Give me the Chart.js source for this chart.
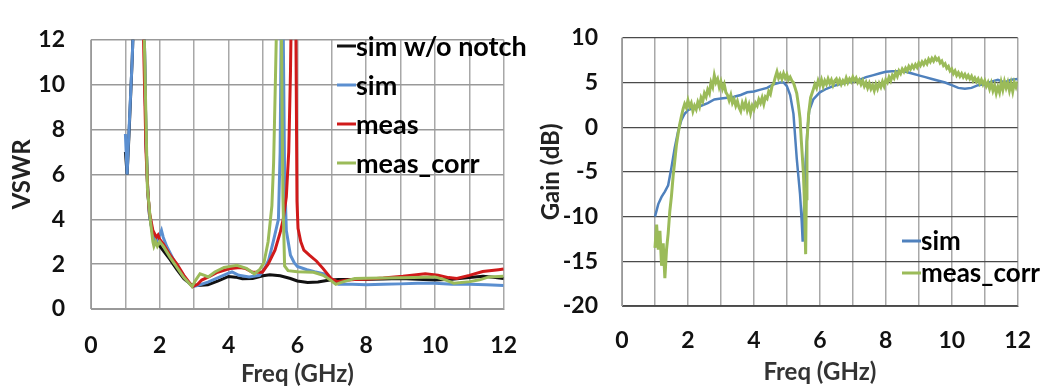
<!DOCTYPE html>
<html>
<head>
<meta charset="utf-8">
<script src="https://cdn.jsdelivr.net/npm/chart.js@4.4.1/dist/chart.umd.min.js"></script>
<style>
  body { margin: 0; background: #fff; }
  #wrap { position: relative; width: 1052px; height: 390px; }
  #vswrChart { position: absolute; left: 0; top: 0; }
  #gainChart { position: absolute; left: 525px; top: 0; }
</style>
</head>
<body>
<div id="wrap">
  <canvas id="vswrChart" width="540" height="390"></canvas>
  <canvas id="gainChart" width="527" height="390"></canvas>
</div>
<script>
// ---- tick labels ----
const freqTicks = [0, 2, 4, 6, 8, 10, 12];
const vswrTicks = [0, 2, 4, 6, 8, 10, 12];
const gainTicks = [-20, -15, -10, -5, 0, 5, 10];

// ---- VSWR (left) ----
const woNotchFreq = [1.0, 1.05, 1.1, 1.2, 1.3, 1.4, 1.5, 1.55, 1.6, 1.65,
  1.7, 1.8, 1.9, 2.0, 2.1, 2.3, 2.5, 2.7, 2.9, 3.1,
  3.4, 3.7, 4.0, 4.2, 4.4, 4.7, 5.0, 5.2, 5.5, 5.8,
  6.0, 6.3, 6.6, 6.9, 7.2, 7.7, 8.5, 9.0, 9.5, 10.0,
  10.5, 11.0, 11.4, 11.7, 12.0];
const woNotchVswr = [7.0, 6.0, 7.6, 11.2, 16, 18, 15, 12.3, 7.5, 5.3,
  4.2, 3.3, 2.95, 2.8, 2.6, 2.2, 1.75, 1.35, 1.1, 1.05,
  1.08, 1.25, 1.45, 1.42, 1.35, 1.36, 1.48, 1.53, 1.48, 1.36,
  1.25, 1.18, 1.2, 1.28, 1.32, 1.32, 1.34, 1.36, 1.33, 1.29,
  1.33, 1.4, 1.46, 1.42, 1.36];

const simFreq = [1.0, 1.05, 1.1, 1.2, 1.25, 1.4, 1.5, 1.55, 1.6, 1.65,
  1.7, 1.8, 1.9, 2.0, 2.05, 2.1, 2.2, 2.4, 2.6, 2.8,
  2.95, 3.1, 3.4, 3.7, 4.0, 4.1, 4.3, 4.6, 4.9, 5.05,
  5.17, 5.3, 5.45, 5.5, 5.53, 5.58, 5.63, 5.68, 5.8, 5.91,
  6.0, 6.28, 6.5, 6.75, 6.9, 7.07, 7.2, 7.6, 8.0, 8.5,
  9.0, 9.5, 10.0, 10.5, 11.0, 11.5, 12.0];
const simVswr = [7.8, 6.0, 7.8, 11.2, 13.5, 18, 15, 12.3, 7.5, 5.3,
  4.2, 3.3, 3.0, 3.3, 3.5, 3.2, 2.8, 2.2, 1.7, 1.25,
  1.0, 1.05, 1.2, 1.4, 1.6, 1.65, 1.5, 1.43, 1.5, 1.8,
  2.2, 3.0, 4.0, 7.0, 12.5, 14, 6.0, 3.5, 2.4, 2.06,
  1.9, 1.75, 1.66, 1.57, 1.45, 1.22, 1.1, 1.1, 1.08, 1.1,
  1.12, 1.15, 1.15, 1.1, 1.1, 1.08, 1.05];

const measFreq = [1.0, 1.4, 1.52, 1.6, 1.65, 1.7, 1.8, 1.9, 1.95, 2.0,
  2.1, 2.3, 2.5, 2.7, 2.9, 2.95, 3.1, 3.22, 3.45, 3.68,
  4.06, 4.33, 4.5, 4.7, 4.98, 5.15, 5.35, 5.5, 5.59, 5.68,
  5.75, 5.8, 5.85, 5.92, 5.96, 5.99, 6.02, 6.1, 6.19, 6.35,
  6.56, 6.75, 6.98, 7.16, 7.4, 7.67, 8.0, 8.5, 9.07, 9.4,
  9.72, 10.09, 10.4, 10.64, 11.0, 11.39, 11.85, 12.0];
const measVswr = [20, 20, 12.5, 7.0, 5.3, 4.3, 3.5, 3.2, 3.3, 3.1,
  2.9, 2.4, 2.0, 1.5, 1.1, 1.0, 1.1, 1.29, 1.45, 1.64,
  1.81, 1.85, 1.8, 1.64, 1.64, 2.0, 2.62, 3.4, 4.0, 5.0,
  7.0, 10.5, 16, 16, 12.0, 4.8, 3.6, 3.0, 2.62, 2.4,
  2.13, 1.8, 1.36, 1.22, 1.28, 1.32, 1.33, 1.38, 1.46, 1.52,
  1.57, 1.5, 1.4, 1.36, 1.5, 1.67, 1.75, 1.78];

const corrFreq = [1.0, 1.4, 1.55, 1.64, 1.73, 1.8, 1.83, 1.88, 1.93, 2.0,
  2.1, 2.3, 2.5, 2.7, 2.94, 3.05, 3.17, 3.3, 3.41, 3.6,
  3.87, 4.05, 4.24, 4.52, 4.75, 4.9, 5.03, 5.15, 5.26, 5.31,
  5.36, 5.4, 5.47, 5.54, 5.58, 5.63, 5.73, 6.0, 6.47, 6.75,
  6.95, 7.12, 7.3, 7.67, 8.0, 9.07, 10.0, 10.3, 10.55, 11.02,
  11.3, 11.57, 12.0];
const corrVswr = [20, 20, 12.0, 5.4, 3.9, 3.0, 2.8, 3.0, 2.8, 3.0,
  2.8, 2.3, 1.85, 1.4, 1.0, 1.3, 1.57, 1.5, 1.43, 1.65,
  1.85, 1.9, 1.95, 1.81, 1.57, 1.75, 2.06, 3.0, 4.6, 6.5,
  10, 13, 14, 12, 5.0, 1.92, 1.71, 1.66, 1.64, 1.5,
  1.3, 1.1, 1.2, 1.36, 1.37, 1.39, 1.43, 1.3, 1.15, 1.22,
  1.3, 1.43, 1.46];

// ---- Gain (right) ----
const gainSimFreq = [1.0, 1.1, 1.2, 1.3, 1.4, 1.5, 1.6, 1.7, 1.8, 1.9,
  2.0, 2.2, 2.4, 2.6, 2.8, 3.0, 3.2, 3.4, 3.6, 3.8, 4.0, 4.2, 4.4, 4.6, 4.8,
  4.9, 5.0, 5.1, 5.2, 5.3, 5.35, 5.4, 5.45, 5.48, 5.52, 5.56, 5.62, 5.68, 5.8,
  6.0, 6.2, 6.4, 6.6, 6.8, 7.0, 7.2, 7.4, 7.6, 7.8,
  8.0, 8.2, 8.4, 8.6, 8.8, 9.0, 9.2, 9.4, 9.6, 9.8,
  10.0, 10.2, 10.4, 10.6, 10.8, 11.0, 11.2, 11.4, 11.6, 11.8,
  12.0];
const gainSim = [-10, -8.6, -7.8, -7.2, -6.5, -4.5, -2.3, -0.5, 0.8, 1.5,
  1.9, 2.2, 2.4, 2.7, 3.1, 3.2, 3.3, 3.4, 3.6, 3.9, 4.0, 4.2, 4.4, 4.8, 5.0,
  5.0, 4.6, 3.6, 1.5, -3.5, -5.5, -7.5, -10.5, -12.8, -9.0, -4.5, -0.5, 1.9, 3.1,
  3.9, 4.3, 4.6, 4.8, 5.0, 5.1, 5.3, 5.6, 5.8, 6.0,
  6.2, 6.25, 6.25, 6.2, 6.0, 5.8, 5.6, 5.4, 5.2, 5.0,
  4.7, 4.4, 4.3, 4.4, 4.7, 4.8, 5.1, 5.3, 5.0, 5.3,
  5.4];

const gainCorrFreq = [
  1.0, 1.05, 1.1, 1.15, 1.2, 1.25, 1.3, 1.35, 1.4, 1.45,
  1.5, 1.55, 1.6, 1.65, 1.7, 1.75, 1.8, 1.85, 1.9, 1.95,
  2.0, 2.05, 2.1, 2.15, 2.2, 2.25, 2.3, 2.35, 2.4, 2.45,
  2.5, 2.55, 2.6, 2.65, 2.7, 2.75, 2.8, 2.85, 2.9, 2.95,
  3.0, 3.05, 3.1, 3.15, 3.2, 3.25, 3.3, 3.35, 3.4, 3.45,
  3.5, 3.55, 3.6, 3.65, 3.7, 3.75, 3.8, 3.85, 3.9, 3.95,
  4.0, 4.05, 4.1, 4.15, 4.2, 4.25, 4.3, 4.35, 4.4, 4.45,
  4.5, 4.55, 4.6, 4.65, 4.7, 4.75, 4.8, 4.85, 4.9, 4.95,
  5.0, 5.05, 5.1, 5.15, 5.2, 5.25, 5.3, 5.35, 5.4, 5.44,
  5.5, 5.53, 5.57, 5.59, 5.61, 5.66, 5.72, 5.8, 5.85, 5.9,
  5.95,
  6.0, 6.05, 6.1, 6.15, 6.2, 6.25, 6.3, 6.35, 6.4, 6.45,
  6.5, 6.55, 6.6, 6.65, 6.7, 6.75, 6.8, 6.85, 6.9, 6.95,
  7.0, 7.05, 7.1, 7.15, 7.2, 7.25, 7.3, 7.35, 7.4, 7.45,
  7.5, 7.55, 7.6, 7.65, 7.7, 7.75, 7.8, 7.85, 7.9, 7.95,
  8.0, 8.05, 8.1, 8.15, 8.2, 8.25, 8.3, 8.35, 8.4, 8.45,
  8.5, 8.55, 8.6, 8.65, 8.7, 8.75, 8.8, 8.85, 8.9, 8.95,
  9.0, 9.05, 9.1, 9.15, 9.2, 9.25, 9.3, 9.35, 9.4, 9.45,
  9.5, 9.55, 9.6, 9.65, 9.7, 9.75, 9.8, 9.85, 9.9, 9.95,
  10.0, 10.05, 10.1, 10.15, 10.2, 10.25, 10.3, 10.35, 10.4, 10.45,
  10.5, 10.55, 10.6, 10.65, 10.7, 10.75, 10.8, 10.85, 10.9, 10.95,
  11.0, 11.05, 11.1, 11.15, 11.2, 11.25, 11.3, 11.35, 11.4, 11.45,
  11.5, 11.55, 11.6, 11.65, 11.7, 11.75, 11.8, 11.85, 11.9, 11.95,
  12.0];
const gainCorr = [
  -13.5, -10.9, -13.7, -11.6, -15.5, -13.0, -16.9, -13.7, -11.9, -9.4,
  -7.7, -5.5, -3.8, -2.0, -0.8, 0.3, 1.2, 2.0, 2.6, 2.2,
  3.0, 2.3, 2.7, 1.8, 2.4, 2.0, 2.8, 2.3, 3.3, 2.9,
  3.8, 3.4, 4.2, 3.8, 5.0, 4.5, 5.8, 5.0, 5.4, 4.5,
  5.1, 4.3, 4.8, 3.9, 3.6, 3.0, 3.6, 2.7, 3.1, 2.4,
  2.9, 2.2, 1.8, 2.7, 2.2, 2.8, 1.9, 2.5, 1.6, 2.4,
  2.0, 2.7, 2.4, 3.1, 2.7, 3.3, 2.6, 3.4, 3.2, 4.0,
  3.7, 4.6, 4.9, 5.6, 6.2, 5.5, 5.9, 5.4, 6.0, 5.5,
  5.9, 5.3, 5.6, 5.2, 5.0, 4.4, 3.8, 2.5, 1.0, -1.6,
  -5.0, -8.0, -14.2, -8.0, -1.6, 1.5, 3.3, 4.2, 4.8, 4.4,
  5.2,
  4.7, 5.3, 4.6, 5.2, 4.8, 5.4, 4.9, 5.3, 4.7, 5.2,
  5.4, 4.9, 5.3, 4.8, 5.2, 4.9, 5.5, 5.0, 5.4, 5.1,
  5.6, 5.2, 5.5, 5.0, 5.3, 4.8, 5.2, 4.6, 5.0, 4.4,
  4.9, 4.3, 4.7, 4.1, 4.8, 4.3, 4.9, 4.5, 5.1, 4.6,
  5.3, 5.0, 5.6, 5.2, 5.8, 5.5, 6.1, 5.7, 6.3, 6.0,
  6.5, 6.2, 6.6, 6.3, 6.8, 6.5, 6.9, 6.6, 7.0, 6.7,
  7.2, 6.9, 7.3, 7.0, 7.4, 7.1, 7.6, 7.3, 7.7, 7.4,
  7.8, 7.5, 7.7, 7.2, 7.4, 6.9, 7.1, 6.6, 6.8, 6.3,
  6.5, 6.0, 6.3, 5.8, 6.1, 5.7, 6.0, 5.6, 5.9, 5.5,
  5.8, 5.4, 5.7, 5.2, 5.5, 5.1, 5.4, 4.9, 5.3, 4.8,
  5.2, 4.6, 5.0, 4.3, 4.9, 4.1, 4.7, 3.8, 4.5, 3.9,
  5.0, 4.2, 5.1, 4.4, 5.0, 4.1, 4.9, 4.0, 5.0, 4.5,
  5.1];

const toPoints = (xs, ys) => xs.map((x, i) => ({ x: x, y: ys[i] }));

// legend drawn inside the plot like the Excel original
const inlineLegend = {
  id: "inlineLegend",
  afterDraw(chart, args, opts) {
    const ctx = chart.ctx;
    ctx.save();
    ctx.font = opts.font;
    ctx.textBaseline = "middle";
    ctx.textAlign = "left";
    chart.data.datasets.forEach((ds, i) => {
      const y = opts.y + i * opts.gap;
      ctx.strokeStyle = ds.borderColor;
      ctx.lineWidth = 3;
      ctx.beginPath();
      ctx.moveTo(opts.x, y);
      ctx.lineTo(opts.x + opts.lineLen, y);
      ctx.stroke();
      ctx.fillStyle = "#000";
      ctx.fillText(ds.label, opts.x + opts.lineLen, y + 1);
    });
    ctx.restore();
  },
};

const tickFont = { family: "Lato", size: 23, weight: "bold" };
const titleFont = { family: "Lato", size: 24, weight: "bold", lineHeight: 1 };

const lineDs = (label, xs, ys, color, order, width) => ({
  label: label,
  data: toPoints(xs, ys),
  borderColor: color,
  borderWidth: width,
  pointRadius: 0,
  tension: 0,
  order: order,
});

new Chart(document.getElementById("vswrChart"), {
  type: "line",
  data: {
    datasets: [
      lineDs("sim w/o notch", woNotchFreq, woNotchVswr, "#111111", 3, 3),
      lineDs("sim", simFreq, simVswr, "#5b8fd0", 2, 3),
      lineDs("meas", measFreq, measVswr, "#d01a1a", 1, 3),
      lineDs("meas_corr", corrFreq, corrVswr, "#9bbb59", 0, 3),
    ],
  },
  plugins: [inlineLegend],
  options: {
    responsive: false,
    animation: false,
    layout: { padding: { left: 0, right: 18, top: 24, bottom: 0 } },
    plugins: {
      legend: { display: false },
      tooltip: { enabled: false },
      inlineLegend: { x: 337, y: 46, gap: 39, lineLen: 19, font: "bold 27px Lato" },
    },
    scales: {
      x: {
        type: "linear",
        min: 0,
        max: 12,
        afterFit: (s) => { s.height = 81; },
        border: { color: "#999" },
        grid: { color: "#a8a8a8", lineWidth: 1.5, drawTicks: false },
        ticks: {
          stepSize: 1,
          padding: 23,
          color: "#111",
          font: tickFont,
          callback: (v) => (freqTicks.includes(v) ? v : ""),
        },
        title: { display: true, text: "Freq (GHz)", color: "#333", font: titleFont, padding: { top: 0, bottom: 4 } },
      },
      y: {
        min: 0,
        max: 12,
        afterFit: (s) => { s.width = 91; },
        border: { color: "#999" },
        grid: {
          color: (c) => (c.tick && c.tick.value === 1 ? "#555" : "#999"),
          lineWidth: 1.5,
          drawTicks: false,
        },
        ticks: {
          stepSize: 1,
          padding: 26,
          color: "#111",
          font: tickFont,
          callback: (v) => (vswrTicks.includes(v) ? v : ""),
        },
        title: { display: true, text: "VSWR", color: "#222", font: titleFont, padding: { top: 10, bottom: 0 } },
      },
    },
  },
});

new Chart(document.getElementById("gainChart"), {
  type: "line",
  data: {
    datasets: [
      lineDs("sim", gainSimFreq, gainSim, "#4f81bd", 1, 2.5),
      lineDs("meas_corr", gainCorrFreq, gainCorr, "#9bbb59", 0, 3),
    ],
  },
  plugins: [inlineLegend],
  options: {
    responsive: false,
    animation: false,
    layout: { padding: { left: 0, right: 15, top: 24, bottom: 0 } },
    plugins: {
      legend: { display: false },
      tooltip: { enabled: false },
      inlineLegend: { x: 377, y: 241, gap: 32, lineLen: 19, font: "bold 26px Lato" },
    },
    scales: {
      x: {
        type: "linear",
        min: 0,
        max: 12,
        afterFit: (s) => { s.height = 84; },
        border: { color: "#555" },
        grid: { color: "#a8a8a8", lineWidth: 1.5, drawTicks: false },
        ticks: {
          stepSize: 1,
          padding: 21,
          color: "#111",
          font: tickFont,
          callback: (v) => (freqTicks.includes(v) ? v : ""),
        },
        title: { display: true, text: "Freq (GHz)", color: "#333", font: titleFont, padding: { top: 0, bottom: 6 } },
      },
      y: {
        min: -20,
        max: 10,
        afterFit: (s) => { s.width = 97; },
        border: { color: "#999" },
        grid: { color: "#4a4a4a", lineWidth: 1.2, drawTicks: false },
        ticks: {
          stepSize: 2.5,
          padding: 24,
          color: "#111",
          font: tickFont,
          callback: (v) => (gainTicks.includes(v) ? v : ""),
        },
        title: { display: true, text: "Gain (dB)", color: "#222", font: titleFont, padding: { top: 14, bottom: 0 } },
      },
    },
  },
});
</script>
</body>
</html>
